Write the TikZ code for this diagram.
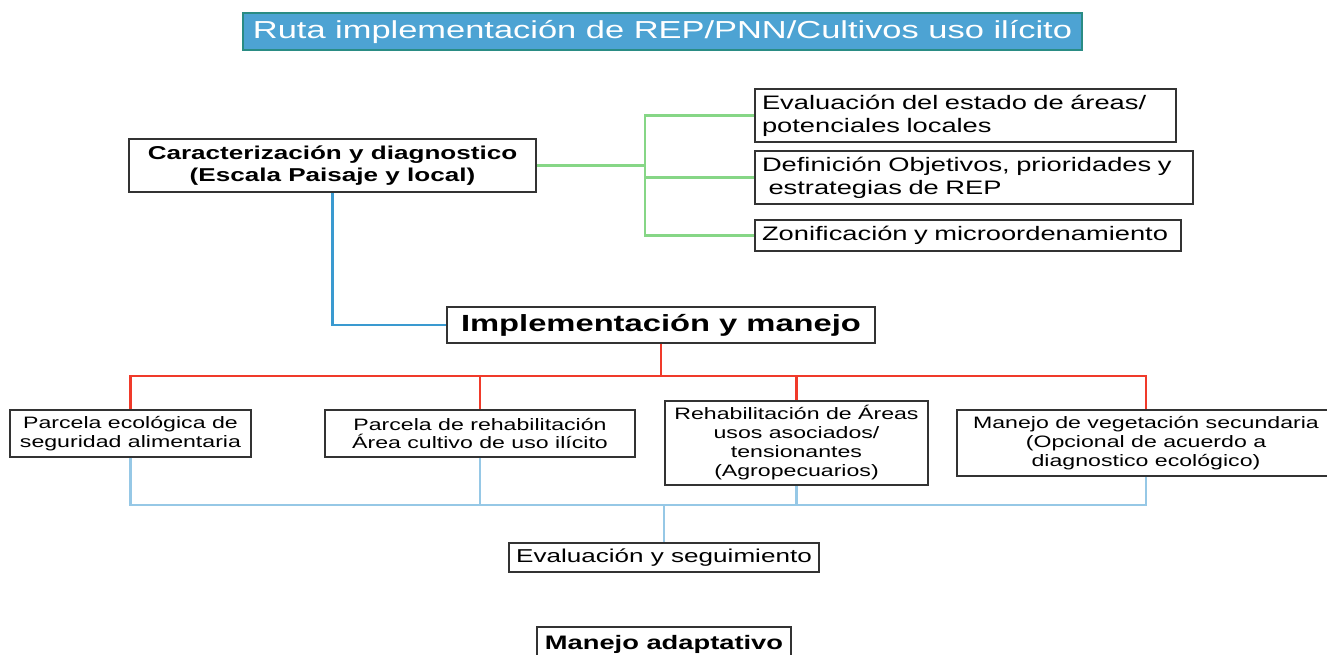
\documentclass[tikz,border=0pt]{standalone}
\usepackage{fontspec}
\setmainfont{Liberation Sans}[FakeStretch=1.4]
\newlength\unitpx
\setlength\unitpx{0.02cm}
\definecolor{titlefill}{HTML}{4DA3D3}
\definecolor{titleline}{HTML}{2A8C84}
\definecolor{diagblue}{HTML}{3A9AD0}
\definecolor{diaggreen}{HTML}{86D686}
\definecolor{implred}{HTML}{F03A2A}
\definecolor{evalblue}{HTML}{96C8E6}
\begin{document}
\begin{tikzpicture}[
			x=0.02cm, y=-0.02cm,
			box/.style={draw=black!80, line width=1.1pt, inner sep=0pt, align=center},
			small/.style={font=\fontsize{9.4}{10.8}\selectfont},
			link/.style={line width=1.4pt}
		]
		\useasboundingbox (0,0) rectangle (1327,655);
		\node[draw=titleline, fill=titlefill, line width=1.1pt, text=white,
			minimum width=839\unitpx, minimum height=37\unitpx,
			font=\fontsize{14}{16}\selectfont] (title) at (662.5,31.5)
			{Ruta implementación de REP/PNN/Cultivos uso ilícito};

		\node[box, minimum width=407\unitpx, minimum height=53\unitpx,
			font=\fontsize{10.6}{12.5}\selectfont\bfseries] (carac) at (332.5,165.5)
			{Caracterización y diagnostico\\(Escala Paisaje y local)};
		\node[box, minimum width=428\unitpx, minimum height=36\unitpx,
			font=\fontsize{13.3}{15}\selectfont\bfseries] (impl) at (661,325)
			{Implementación y manejo};

		% diagnostico
		\node[box, align=left, text width=407\unitpx, minimum height=53\unitpx,
			inner xsep=7\unitpx, font=\fontsize{11.1}{13}\selectfont] (evalarea) at (965.5,115.5)
			{Evaluación del estado de áreas/\\potenciales locales};
		\node[box, align=left, text width=424\unitpx, minimum height=53\unitpx,
			inner xsep=7\unitpx, font=\fontsize{11.1}{13}\selectfont] (objetivos) at (974,177.5)
			{Definición Objetivos, prioridades y\\\ estrategias de REP};
		\node[box, align=left, text width=412\unitpx, minimum height=31\unitpx,
			inner xsep=7\unitpx, font=\fontsize{11.1}{13}\selectfont] (zonif) at (968,235.5)
			{Zonificación y microordenamiento};

		% implementacion
		\node[box, small, minimum width=241\unitpx, minimum height=47\unitpx] (parcela) at (130.5,433.5)
			{Parcela ecológica de\\seguridad alimentaria};
		\node[box, small, minimum width=310\unitpx, minimum height=47\unitpx] (rehab) at (480,433.5)
			{Parcela de rehabilitación\\Área cultivo de uso ilícito};
		\node[box, small, minimum width=263\unitpx, minimum height=84\unitpx] (usos) at (796.5,443)
			{Rehabilitación de Áreas\\usos asociados/\\tensionantes\\(Agropecuarios)};
		\node[box, small, minimum width=378\unitpx, minimum height=66\unitpx] (vegetacion) at (1146,443)
			{Manejo de vegetación secundaria\\(Opcional de acuerdo a\\diagnostico ecológico)};

		\node[box, minimum width=310\unitpx, minimum height=29\unitpx,
			font=\fontsize{10.6}{12.5}\selectfont] (seguim) at (664,557.5)
			{Evaluación y seguimiento};
		\node[box, minimum width=254\unitpx, minimum height=34\unitpx,
			font=\fontsize{11.1}{13}\selectfont\bfseries] (adapt) at (664,644)
			{Manejo adaptativo};

		\coordinate (gsplit) at (645,165.5);
		\coordinate (rsplit) at (661,376);
		\coordinate (bmerge) at (664,505);

		\draw[link, diagblue] (carac.south) |- (impl.west);
		\draw[link, diaggreen] (carac.east) -- (gsplit);
		\foreach \n in {evalarea,objetivos,zonif}
			\draw[link, diaggreen] (gsplit) |- (\n.west);
		\draw[link, implred] (impl.south) -- (rsplit);
		\foreach \n in {parcela,rehab,usos,vegetacion}
			\draw[link, implred] (rsplit) -| (\n.north);
		\foreach \n in {parcela,rehab,usos,vegetacion}
			\draw[link, evalblue] (\n.south) |- (bmerge);
		\draw[link, evalblue] (bmerge) -- (seguim.north);
	\end{tikzpicture}
\end{document}
